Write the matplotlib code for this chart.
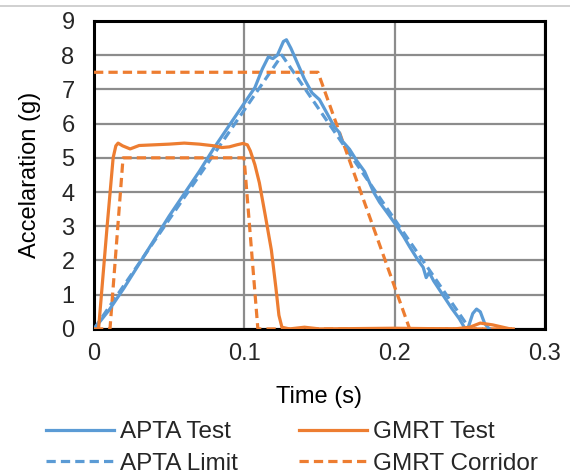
import matplotlib
matplotlib.use('Agg')
import matplotlib.pyplot as plt
from matplotlib.lines import Line2D

plt.rcParams['font.family'] = ['Liberation Sans', 'DejaVu Sans']
plt.rcParams['text.color'] = '#262626'

blue = '#5B9BD5'
orange = '#ED7D31'
fs = 17

# APTA test (measured pulse)
apta_t = [0, 0.01, 0.02, 0.03, 0.04, 0.05, 0.06, 0.07, 0.08, 0.09, 0.1, 0.107,
          0.112, 0.116, 0.119, 0.122, 0.126, 0.128, 0.131, 0.135, 0.14, 0.145,
          0.15, 0.155, 0.16, 0.163, 0.165, 0.17, 0.175, 0.18, 0.186, 0.19, 0.195,
          0.2015, 0.206, 0.21, 0.2157, 0.219, 0.221, 0.223, 0.226, 0.232, 0.238,
          0.243, 0.247, 0.249, 0.252, 0.2545, 0.257, 0.26, 0.263]
apta_a = [0, 0.55, 1.2, 1.9, 2.6, 3.3, 3.95, 4.6, 5.3, 5.95, 6.6, 7.05,
          7.6, 7.95, 7.9, 8.0, 8.4, 8.45, 8.2, 7.8, 7.3, 6.9,
          6.7, 6.3, 5.9, 5.75, 5.5, 5.25, 4.9, 4.6, 4.0, 3.7, 3.4,
          3.0, 2.7, 2.4, 2.0, 1.8, 1.5, 1.65, 1.4, 1.0, 0.6,
          0.3, 0.0, 0.05, 0.45, 0.58, 0.5, 0.15, 0.0]

# APTA limit (triangular pulse)
limit_t = [0, 0.125, 0.25]
limit_a = [0, 8, 0]

# GMRT test
gmrt_t = [0, 0.003, 0.005, 0.0087, 0.0127, 0.0145, 0.016, 0.019, 0.024, 0.03,
          0.04, 0.05, 0.06, 0.07, 0.08, 0.085, 0.09, 0.095, 0.099, 0.102, 0.104,
          0.107, 0.110, 0.114, 0.118, 0.121, 0.123, 0.125, 0.13, 0.14, 0.15,
          0.2, 0.24, 0.25, 0.257, 0.265, 0.272, 0.277]
gmrt_a = [0, 0, 1.05, 3.0, 5.0, 5.35, 5.43, 5.35, 5.26, 5.36,
          5.38, 5.4, 5.43, 5.4, 5.35, 5.3, 5.32, 5.38, 5.42, 5.38, 5.2,
          4.8, 4.27, 3.3, 2.3, 1.2, 0.4, 0.05, 0.0, 0.05, 0.0,
          0.02, 0.0, 0.05, 0.17, 0.12, 0.05, 0.0]

# GMRT corridor (lower and upper bounds)
low_t = [0, 0.0106, 0.0193, 0.0998, 0.109, 0.28]
low_a = [0, 0, 5, 5, 0, 0]
up_t = [0, 0.149, 0.210, 0.28]
up_a = [7.5, 7.5, 0, 0]

fig = plt.figure(figsize=(5.7, 4.76), dpi=100)
ax = fig.add_axes([0.165, 0.309, 0.791, 0.647])

lw = 2.3
dash = (2.9, 1.6)
ax.plot(apta_t, apta_a, color=blue, lw=lw, zorder=4)
ax.plot(gmrt_t, gmrt_a, color=orange, lw=lw, zorder=4)
ax.plot(limit_t, limit_a, color=blue, lw=lw, ls=(0, dash), zorder=3)
ax.plot(low_t, low_a, color=orange, lw=lw, ls=(0, dash), zorder=3)
ax.plot(up_t, up_a, color=orange, lw=lw, ls=(0, dash), zorder=3)

ax.set_xlim(0, 0.3)
ax.set_ylim(0, 9)
ax.set_xticks([0, 0.1, 0.2, 0.3])
ax.set_xticklabels(['0', '0.1', '0.2', '0.3'])
ax.set_yticks(range(10))
ax.grid(True, color='#8c8c8c', lw=1.6)
ax.set_axisbelow(True)
for s in ax.spines.values():
    s.set_linewidth(2.2)
    s.set_color('black')
ax.tick_params(length=0, labelsize=fs, labelcolor='#262626', pad=10)
ax.tick_params(axis='y', pad=14)
ax.set_xlabel('Time (s)', fontsize=fs, labelpad=15)
ax.set_ylabel('Accelaration (g)', fontsize=fs, labelpad=15)

# column-major order so rows read: APTA Test | GMRT Test, APTA Limit | GMRT Corridor
handles = [Line2D([], [], color=blue, lw=lw),
           Line2D([], [], color=blue, lw=lw, ls=(0, dash)),
           Line2D([], [], color=orange, lw=lw),
           Line2D([], [], color=orange, lw=lw, ls=(0, dash))]
labels = ['APTA Test', 'APTA Limit', 'GMRT Test', 'GMRT Corridor']
fig.legend(handles, labels, ncol=2, frameon=False, fontsize=17.5,
           loc='center', bbox_to_anchor=(292 / 570, 1 - 448 / 476),
           handlelength=2.8, handletextpad=0.25, columnspacing=2.5,
           labelspacing=0.4)

# thin separator line at the top of the cropped figure
fig.add_artist(Line2D([0, 1], [1 - 6 / 476, 1 - 6 / 476], color='#c8c8c8', lw=1.2))

fig.savefig('out.png', dpi=100)
